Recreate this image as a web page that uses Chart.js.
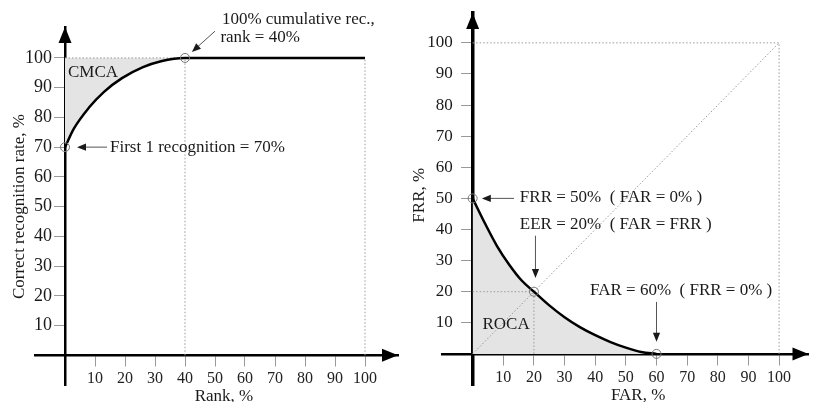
<!DOCTYPE html>
<html>
<head>
<meta charset="utf-8">
<script src="https://cdn.jsdelivr.net/npm/chart.js@4.4.0/dist/chart.umd.min.js"></script>
<style>
  body { margin: 0; background: #fff; }
  #wrap { position: relative; width: 814px; height: 402px; }
  .box { position: absolute; top: 0; height: 402px; }
  #leftBox { left: 0; width: 407px; }
  #rightBox { left: 405px; width: 409px; }
</style>
</head>
<body>
<div id="wrap">
  <div class="box" id="leftBox"><canvas id="cmcCanvas"></canvas></div>
  <div class="box" id="rightBox"><canvas id="rocCanvas"></canvas></div>
</div>
<script>
// tick labels (both axes, both charts)
const tickValues = [10, 20, 30, 40, 50, 60, 70, 80, 90, 100];

// CMC curve: rank % vs correct recognition rate %
const cmcRank = [0, 3, 8, 13, 19, 26, 32, 40, 100];
const cmcRate = [70, 76.3, 83.3, 88.6, 93.2, 96.9, 98.9, 100, 100];
const cmcMarkX = [0, 40];
const cmcMarkY = [70, 100];

// ROC curve: FAR % vs FRR %
const farValues = [0, 4, 8, 12, 16, 20, 25, 30, 35, 40, 45, 50, 55, 60];
const frrValues = [50, 42, 34.6, 28.6, 23.6, 20, 15.6, 11.8, 8.6, 6, 3.8, 2, 0.6, 0];
const rocMarkX = [0, 20, 60];
const rocMarkY = [50, 20, 0];

const FONT = '"Liberation Serif", "Times New Roman", serif';
const GUIDE = '#9a9a9a';
const FILL = '#e4e4e4';

function pts(xs, ys) {
  return xs.map((x, i) => ({ x: x, y: ys[i] }));
}

function guide(data) {
  return {
    data: data, borderColor: GUIDE, borderWidth: 1, borderDash: [1.5, 2],
    pointRadius: 0, fill: false, tension: 0, order: 2
  };
}

function marks(data) {
  return {
    data: data, showLine: false, pointRadius: 4.5, pointBorderWidth: 1,
    pointBorderColor: '#777', pointBackgroundColor: 'rgba(0,0,0,0)', order: 0
  };
}

function axis(min, max, at, borderW, showLabels) {
  return {
    type: 'linear', min: min, max: max, position: at, z: 1,
    afterBuildTicks: function (s) { s.ticks = tickValues.map(v => ({ value: v })); },
    afterFit: function (s) { s.paddingTop = 0; s.paddingBottom = 0; s.paddingLeft = 0; s.paddingRight = 0; },
    grid: { drawOnChartArea: false, drawTicks: true, tickLength: 10, color: '#999', lineWidth: 1 },
    border: { display: true, color: '#000', width: borderW },
    ticks: { display: showLabels, font: { family: FONT, size: 16 }, color: '#222', padding: 4, maxRotation: 0, autoSkip: false }
  };
}

function arrow(ctx, x1, y1, x2, y2, head) {
  const a = Math.atan2(y2 - y1, x2 - x1);
  ctx.beginPath();
  ctx.moveTo(x1, y1);
  ctx.lineTo(x2 - Math.cos(a) * head * 0.8, y2 - Math.sin(a) * head * 0.8);
  ctx.stroke();
  ctx.beginPath();
  ctx.moveTo(x2, y2);
  ctx.lineTo(x2 - head * Math.cos(a) + head * 0.4 * Math.sin(a), y2 - head * Math.sin(a) - head * 0.4 * Math.cos(a));
  ctx.lineTo(x2 - head * Math.cos(a) - head * 0.4 * Math.sin(a), y2 - head * Math.sin(a) + head * 0.4 * Math.cos(a));
  ctx.closePath();
  ctx.fill();
}

function txt(ctx, s, x, y, align, size) {
  ctx.font = (size || 17) + 'px ' + FONT;
  ctx.fillStyle = '#1a1a1a';
  ctx.textAlign = align || 'left';
  ctx.textBaseline = 'middle';
  ctx.fillText(s, x, y);
}

// arrows on axes, y tick labels, annotation texts
function makeDecor(yLabelGap, yLabelSize, notes) {
  return {
    id: 'decor',
    afterDraw: function (chart) {
      const ctx = chart.ctx, xs = chart.scales.x, ys = chart.scales.y, area = chart.chartArea;
      const ox = xs.getPixelForValue(0), oy = ys.getPixelForValue(0);
      ctx.save();
      ctx.fillStyle = '#000';
      ctx.beginPath();
      ctx.moveTo(area.right, oy);
      ctx.lineTo(area.right - 16, oy - 6.5);
      ctx.lineTo(area.right - 16, oy + 6.5);
      ctx.closePath();
      ctx.fill();
      ctx.beginPath();
      ctx.moveTo(ox, area.top);
      ctx.lineTo(ox - 6.5, area.top + 16);
      ctx.lineTo(ox + 6.5, area.top + 16);
      ctx.closePath();
      ctx.fill();
      tickValues.forEach(v => txt(ctx, String(v), ox - yLabelGap, ys.getPixelForValue(v), 'right', yLabelSize));
      notes(ctx, xs, ys, ox, oy);
      ctx.restore();
    }
  };
}

function baseOptions(xMax, yMax, borderY) {
  return {
    responsive: true, maintainAspectRatio: false, animation: false,
    layout: { padding: 0 },
    plugins: { legend: { display: false }, tooltip: { enabled: false }, filler: { drawTime: 'beforeDatasetsDraw' } },
    scales: {
      x: axis(-10, xMax, { y: 0 }, 2.5, true),
      y: axis(-10, yMax, { x: 0 }, borderY, false)
    }
  };
}

// ---- CMC chart ----
const cmcOpts = baseOptions(111, 110.4, 2.5);
cmcOpts.layout.padding = { left: 35, top: 27, right: 9, bottom: 17 };

new Chart(document.getElementById('cmcCanvas'), {
  type: 'line',
  data: {
    datasets: [
      {
        data: pts(cmcRank, cmcRate), borderColor: '#000', borderWidth: 2.5,
        pointRadius: 0, cubicInterpolationMode: 'monotone',
        fill: { value: 100 }, backgroundColor: FILL, order: 1
      },
      guide(pts([0, 40], [100, 100])),
      guide(pts([40, 40], [0, 100])),
      guide(pts([100, 100], [0, 100])),
      marks(pts(cmcMarkX, cmcMarkY))
    ]
  },
  options: cmcOpts,
  plugins: [makeDecor(13, 18, function (ctx, xs, ys, ox, oy) {
    const X = v => xs.getPixelForValue(v), Y = v => ys.getPixelForValue(v);
    txt(ctx, 'CMCA', X(1), Y(95));
    txt(ctx, '100% cumulative rec.,', X(52.3), Y(113));
    txt(ctx, 'rank = 40%', X(51.8), Y(106.7));
    txt(ctx, 'First 1 recognition = 70%', X(15), Y(70));
    ctx.strokeStyle = '#555';
    ctx.lineWidth = 1;
    arrow(ctx, X(50), Y(109), X(42.3), Y(102), 9);
    arrow(ctx, X(14), Y(70), X(4), Y(70), 9);
    txt(ctx, 'Rank, %', X(53), oy + 41, 'center');
    ctx.save();
    ctx.translate(ox - 45, Y(50));
    ctx.rotate(-Math.PI / 2);
    txt(ctx, 'Correct recognition rate, %', 0, 0, 'center');
    ctx.restore();
  })]
});

// ---- ROC chart ----
const rocOpts = baseOptions(109.6, 109.6, 3.5);
rocOpts.layout.padding = { left: 37, top: 13, right: 0, bottom: 17 };

new Chart(document.getElementById('rocCanvas'), {
  type: 'line',
  data: {
    datasets: [
      {
        data: pts(farValues, frrValues), borderColor: '#000', borderWidth: 2.5,
        pointRadius: 0, cubicInterpolationMode: 'monotone',
        fill: 'origin', backgroundColor: FILL, order: 1
      },
      guide(pts([0, 100], [100, 100])),
      guide(pts([100, 100], [0, 100])),
      guide(pts([0, 100], [0, 100])),
      guide(pts([0, 20], [20, 20])),
      guide(pts([20, 20], [0, 20])),
      marks(pts(rocMarkX, rocMarkY))
    ]
  },
  options: rocOpts,
  plugins: [makeDecor(20, 17, function (ctx, xs, ys, ox, oy) {
    const X = v => xs.getPixelForValue(v), Y = v => ys.getPixelForValue(v);
    txt(ctx, 'FRR = 50%  ( FAR = 0% )', X(15.4), Y(50.2));
    txt(ctx, 'EER = 20%  ( FAR = FRR )', X(15.4), Y(41.5));
    txt(ctx, 'FAR = 60%  ( FRR = 0% )', X(38.3), Y(20.3));
    txt(ctx, 'ROCA', X(3.2), Y(9.6));
    ctx.strokeStyle = '#555';
    ctx.lineWidth = 1;
    arrow(ctx, X(13.5), Y(50), X(3), Y(50), 9);
    arrow(ctx, X(20.5), Y(38), X(20.5), Y(24.4), 9);
    arrow(ctx, X(60), Y(16.7), X(60), Y(3.9), 9);
    txt(ctx, 'FAR, %', X(54), oy + 42, 'center');
    ctx.save();
    ctx.translate(ox - 53, Y(51));
    ctx.rotate(-Math.PI / 2);
    txt(ctx, 'FRR, %', 0, 0, 'center');
    ctx.restore();
  })]
});
</script>
</body>
</html>
